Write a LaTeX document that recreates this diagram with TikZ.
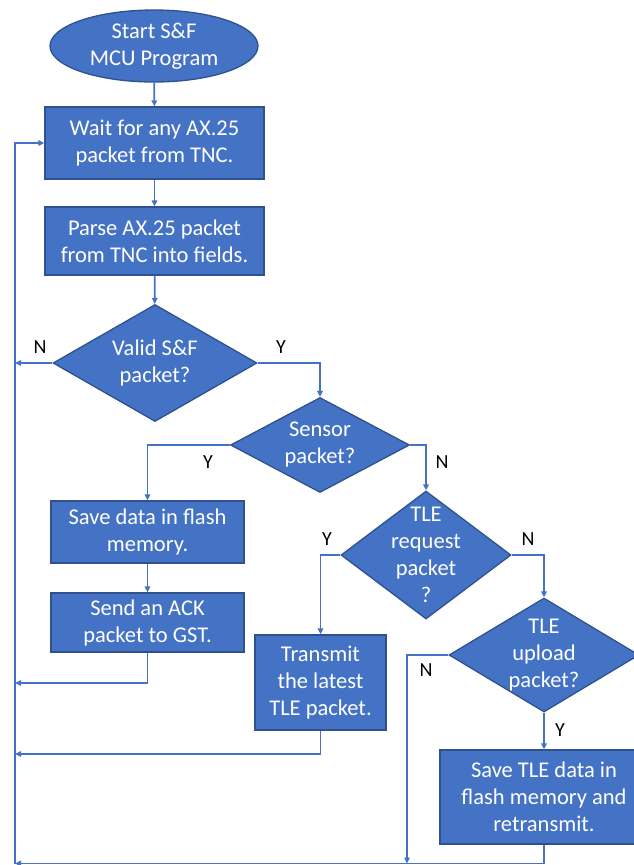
\documentclass[tikz,border=0pt]{standalone}
\usepackage{fontspec}
\setmainfont{Carlito}
\usetikzlibrary{shapes.geometric,arrows.meta}
\definecolor{boxblue}{HTML}{4472C4}
\definecolor{edgeblue}{HTML}{2F528F}
\definecolor{wireblue}{HTML}{4472C4}
\tikzset{
  blk/.style={draw=edgeblue, line width=1.3pt, fill=boxblue, text=white,
    font=\fontsize{22.5}{27}\selectfont, align=center, inner sep=0pt},
  procbox/.style={blk, rectangle},
  termshape/.style={blk, ellipse},
  decide/.style={blk, diamond},
  intext/.style={text=white, font=\fontsize{22.5}{27}\selectfont, align=center, inner sep=0pt},
  lbl/.style={text=black, font=\fontsize{20}{24}\selectfont, inner sep=0pt},
  wire/.style={draw=wireblue, line width=1.7pt},
  arr/.style={wire, -{Triangle[length=6pt,width=5.5pt]}}
}
\begin{document}
\begin{tikzpicture}[x=1pt, y=-1pt]
\useasboundingbox (0,0) rectangle (634,865);

% shapes
\node[termshape, minimum width=208pt, minimum height=72pt] (start) at (154,46) {};
\node[intext] at (start) {Start S\&F\\MCU Program};
\node[procbox, minimum width=219pt, minimum height=72pt] (b1) at (154.5,143) {Wait for any AX.25\\packet from TNC.};
\node[procbox, minimum width=219pt, minimum height=68pt] (b2) at (154.5,241) {Parse AX.25 packet\\from TNC into fields.};
\node[decide, minimum width=204pt, minimum height=117pt] (d1) at (155,363) {};
\node[intext] at (d1) {Valid S\&F\\packet?};
\node[decide, minimum width=179pt, minimum height=95pt] (d2) at (320,445) {};
\node[intext] at (d2) {Sensor\\packet?};
\node[procbox, minimum width=193pt, minimum height=62pt] (b3) at (147.5,532) {Save data in flash\\memory.};
\node[procbox, minimum width=193pt, minimum height=59pt] (b4) at (147.5,622.5) {Send an ACK\\packet to GST.};
\node[decide, minimum width=170pt, minimum height=128pt] (d3) at (426,555) {};
\node[intext] at (d3) {TLE\\request\\packet\\?};
\node[procbox, minimum width=131pt, minimum height=95pt] (b5) at (320.5,682.5) {Transmit\\the latest\\TLE packet.};
\node[decide, minimum width=190pt, minimum height=114pt] (d4) at (544,655) {};
\node[intext] at (d4) {TLE\\upload\\packet?};
\node[procbox, minimum width=208pt, minimum height=94pt] (b6) at (544,797) {Save TLE data in\\flash memory and\\retransmit.};

% return rail on the left
\coordinate (r0) at (15,143);
\coordinate (rN) at (15,363);
\coordinate (r1) at (15,683);
\coordinate (r2) at (15,754);
\coordinate (r3) at (15,863.5);
\coordinate (nd) at (407,863.5);

% connectors
\draw[arr] (start) -- (b1);
\draw[arr] (b1) -- (b2);
\draw[arr] (b2) -- (d1);
\draw[arr] (d1.west) -- (rN);
\draw[arr] (d1.east) -| (d2.north);
\draw[arr] (d2.west) -| (b3.north);
\draw[arr] (d2.east) -| (d3.north);
\draw[arr] (b3) -- (b4);
\draw[arr] (b4.south) |- (r1);
\draw[arr] (d3.west) -| (b5.north);
\draw[arr] (d3.east) -| (d4.north);
\draw[arr] (b5.south) |- (r2);
\draw[arr] (d4.west) -| (nd);
\draw[arr] (d4.south) -- (b6.north);
\draw[arr] (b6.south) |- (r3);
\draw[arr] (r3) -- (r0) -- (b1.west);

% branch labels
\node[lbl] at (40,347) {N};
\node[lbl] at (281,347) {Y};
\node[lbl] at (208,462) {Y};
\node[lbl] at (442,462) {N};
\node[lbl] at (327,539) {Y};
\node[lbl] at (528,539) {N};
\node[lbl] at (426,670) {N};
\node[lbl] at (560,730) {Y};
\end{tikzpicture}
\end{document}
